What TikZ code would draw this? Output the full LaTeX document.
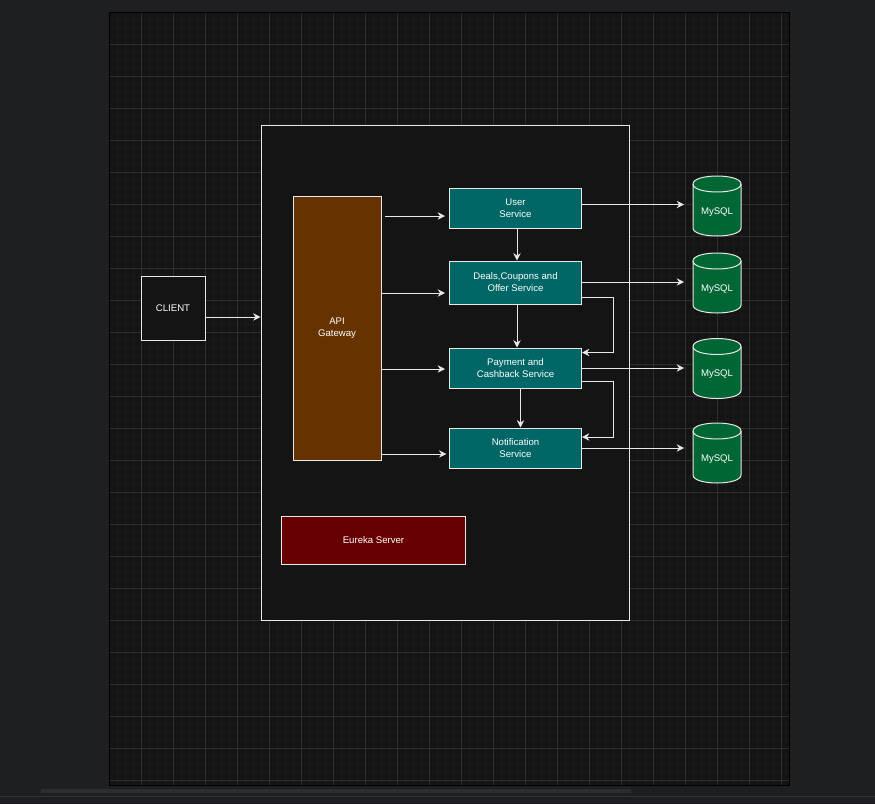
\documentclass[tikz,border=0pt]{standalone}
\usepackage{fontspec}
\setmainfont{Liberation Sans}
\usetikzlibrary{arrows.meta}
\definecolor{outerbg}{RGB}{30,31,34}
\definecolor{canvasbg}{RGB}{20,20,20}
\definecolor{gridminor}{RGB}{26,26,26}
\definecolor{gridmajor}{RGB}{46,46,46}
\definecolor{edgecol}{RGB}{232,232,232}
\definecolor{svcteal}{RGB}{0,102,102}
\definecolor{apibrown}{RGB}{102,51,0}
\definecolor{eurekared}{RGB}{102,0,0}
\definecolor{dbgreen}{RGB}{0,102,51}
\definecolor{scrollcol}{RGB}{44,45,48}
\definecolor{sepcol}{RGB}{48,49,52}
\newcommand{\dbcyl}[3]{%
  \filldraw[fill=dbgreen, draw=edgecol, line width=0.75pt]
    (#2-24,#3-22) -- (#2-24,#3+22)
    .. controls (#2-24,#3+32.667) and (#2+24,#3+32.667) .. (#2+24,#3+22)
    -- (#2+24,#3-22)
    .. controls (#2+24,#3-32.667) and (#2-24,#3-32.667) .. (#2-24,#3-22) -- cycle;
  \draw[draw=edgecol, line width=0.75pt]
    (#2-24,#3-22) .. controls (#2-24,#3-11.333) and (#2+24,#3-11.333) .. (#2+24,#3-22);
  \node[dbtext] (#1) at (#2,#3+6) {MySQL};
}
\begin{document}
\begin{tikzpicture}[x=0.75pt,y=-0.75pt,
  txt/.style={text=white, font=\fontsize{7.2}{9}\selectfont, align=center, inner sep=0pt},
  box/.style={txt, draw=edgecol, line width=0.75pt},
  svc/.style={box, fill=svcteal, minimum width=99pt, minimum height=30pt},
  dbtext/.style={txt, minimum width=36pt, minimum height=30pt},
  arr/.style={draw=edgecol, line width=0.75pt, -{Stealth[length=5.5pt,width=5.5pt,inset=1.8pt]}}]
\useasboundingbox (0,0) rectangle (875,804);
\fill[outerbg] (0,0) rectangle (875,804);
% canvas and grid
\fill[canvasbg] (109,12) rectangle (789,785);
\foreach \x in {117,125,...,789} \draw[gridminor, line width=0.75pt] (\x,12) -- (\x,785);
\foreach \y in {20,28,...,785} \draw[gridminor, line width=0.75pt] (109,\y) -- (789,\y);
\foreach \x in {141,173,...,789} \draw[gridmajor, line width=0.75pt] (\x,12) -- (\x,785);
\foreach \y in {44,76,...,785} \draw[gridmajor, line width=0.75pt] (109,\y) -- (789,\y);
\draw[black, line width=0.75pt] (109,12) rectangle (789,785);
\fill[scrollcol] (41,789) rectangle (631,793);
\draw[sepcol, line width=0.75pt] (0,796) -- (875,796);

% nodes
\node[box, fill=canvasbg, minimum width=276pt, minimum height=371.25pt] (sys) at (445,372.5) {};
\node[box, fill=canvasbg, minimum width=48pt, minimum height=48pt] (client) at (173,308.5) {CLIENT};
\node[box, fill=apibrown, minimum width=66pt, minimum height=198pt] (api) at (337,328.5) {API\\Gateway};
\node[svc] (user) at (515.5,208) {User\\Service};
\node[svc, minimum height=32.25pt] (deals) at (515.5,282.5) {Deals,Coupons and\\Offer Service};
\node[svc] (pay) at (515.5,368) {Payment and\\Cashback Service};
\node[svc] (notif) at (515.5,448) {Notification\\Service};
\node[box, fill=eurekared, minimum width=138pt, minimum height=36pt] (eureka) at (373.5,540) {Eureka Server};
\dbcyl{db1}{717}{206}
\dbcyl{db2}{717}{283}
\dbcyl{db3}{717}{368.5}
\dbcyl{db4}{717}{453}

% helper levels
\coordinate (yc) at (0,317);
\coordinate (ya1) at (385,216);
\coordinate (ya2) at (0,293);
\coordinate (ya3) at (0,369);
\coordinate (ya4) at (0,454);
\coordinate (yd1) at (0,204.5);
\coordinate (yd2) at (0,282);
\coordinate (yd3) at (0,368);
\coordinate (yd4) at (0,448);
\coordinate (ye1) at (0,297);
\coordinate (ye2) at (0,352.5);
\coordinate (ye3) at (0,381);
\coordinate (ye4) at (0,437);
\coordinate (xe) at (613,0);
\coordinate (xv1) at (517,0);
\coordinate (xv3) at (520.5,0);

% connectors
\draw[arr] (client.east |- yc) -- (sys.west |- yc);
\draw[arr, shorten >=3pt] (ya1) -- (user.west |- ya1);
\draw[arr, shorten >=3pt] (api.east |- ya2) -- (deals.west |- ya2);
\draw[arr, shorten >=3pt] (api.east |- ya3) -- (pay.west |- ya3);
\draw[arr, shorten >=2pt] (api.east |- ya4) -- (notif.west |- ya4);
\draw[arr] (xv1 |- user.south) -- (xv1 |- deals.north);
\draw[arr] (xv1 |- deals.south) -- (xv1 |- pay.north);
\draw[arr] (xv3 |- pay.south) -- (xv3 |- notif.north);
\draw[arr] (deals.east |- ye1) -- (xe |- ye1) -- (xe |- ye2) -- (pay.east |- ye2);
\draw[arr] (pay.east |- ye3) -- (xe |- ye3) -- (xe |- ye4) -- (notif.east |- ye4);
\draw[arr, shorten >=6.5pt] (user.east |- yd1) -- (db1.west |- yd1);
\draw[arr, shorten >=6.5pt] (deals.east |- yd2) -- (db2.west |- yd2);
\draw[arr, shorten >=6.5pt] (pay.east |- yd3) -- (db3.west |- yd3);
\draw[arr, shorten >=6.5pt] (notif.east |- yd4) -- (db4.west |- yd4);
\end{tikzpicture}
\end{document}
